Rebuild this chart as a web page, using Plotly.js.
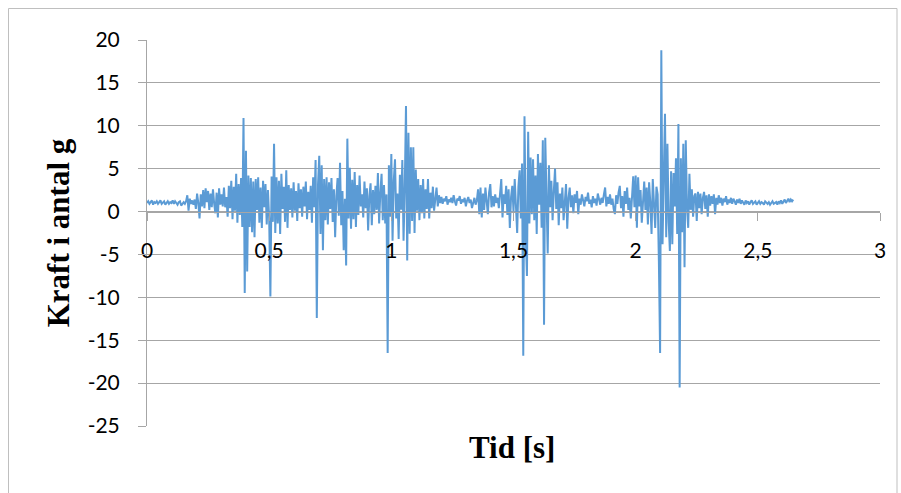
<!DOCTYPE html>
<html>
<head>
<meta charset="utf-8">
<script src="https://cdn.plot.ly/plotly-3.0.1.min.js"></script>
<style>
  html, body { margin: 0; padding: 0; background: #ffffff; }
  #chart { width: 901px; height: 493px; }
</style>
</head>
<body>
<div id="chart"></div>
<script>
// Sampling step of the recording (seconds)
const sampleStep = 0.005;

// Force readings (in g), one per sample
const force = [
  1.0,1.2,0.9,1.1,1.3,0.8,1.1,1.0,1.2,0.9,
  1.1,1.3,0.9,1.0,1.2,0.8,1.1,1.2,0.9,1.1,
  1.0,1.3,0.9,1.2,1.0,0.8,1.1,1.2,0.7,1.0,
  1.1,0.9,1.2,1.9,0.1,1.5,0.9,1.3,0.8,1.4,
  0.3,2.1,1.0,-0.8,2.0,0.6,2.5,0.4,2.7,1.1,
  2.4,0.2,2.1,0.5,2.6,0.9,-0.2,2.2,-0.7,2.7,
  0.8,2.0,0.6,2.8,0.5,1.7,-0.6,3.0,0.4,3.6,
  -0.9,2.9,0.1,4.4,-1.3,3.2,-0.4,3.9,-1.8,10.9,
  -9.5,7.1,-7.0,4.2,-1.8,3.9,-2.4,3.5,-3.0,3.8,
  0.2,4.0,-1.3,2.8,-1.9,3.6,0.5,3.2,-1.5,2.5,
  -0.8,-9.9,4.1,-1.2,7.9,-2.5,4.0,-1.4,3.6,-2.6,
  4.4,0.3,2.9,-1.2,4.8,-1.9,3.1,0.2,2.7,-0.7,
  3.4,0.1,2.4,-1.1,3.3,0.4,2.6,-0.6,2.9,0.6,
  3.5,-0.9,2.3,0.2,3.0,-1.3,4.0,0.5,6.0,-12.4,
  3.2,6.5,-2.6,5.4,-4.5,3.8,-1.0,4.0,-1.5,3.4,
  0.3,3.9,-1.2,2.6,-3.0,1.8,3.9,-0.5,5.7,-1.6,
  2.4,-4.5,1.5,-6.3,8.5,-0.8,5.1,-2.0,3.7,-0.9,
  4.6,-1.8,3.1,-0.4,4.2,0.6,2.0,-0.7,3.5,0.4,
  2.7,-2.2,1.8,3.3,-1.6,2.5,-0.3,3.0,0.2,4.5,
  -1.4,2.2,4.4,-1.0,3.1,-1.4,2.0,-16.5,5.4,-0.6,
  6.7,-3.4,3.6,6.1,-0.8,2.1,-3.2,4.3,0.2,6.0,
  -3.4,2.8,12.3,-5.7,9.2,-2.6,7.5,-1.1,7.5,-2.5,
  4.9,0.1,3.8,-1.0,3.1,-0.2,3.8,-0.8,2.6,0.3,
  3.8,-0.8,2.2,0.4,2.9,0.1,1.8,2.8,0.6,1.9,
  1.0,1.7,0.9,1.5,1.2,1.8,0.8,1.4,1.1,1.6,
  1.0,1.9,1.2,0.7,1.5,1.3,1.8,0.9,1.4,1.1,
  1.6,0.6,1.3,1.7,1.0,1.4,0.4,1.2,1.6,0.8,
  1.3,2.6,-0.3,2.8,-0.7,2.1,0.2,2.8,0.9,-0.3,
  2.2,3.2,0.5,1.8,0.6,2.0,1.0,1.6,0.4,2.5,
  3.8,-0.7,2.0,0.9,3.0,-0.4,2.6,-1.9,1.7,3.0,
  0.0,3.8,-0.5,-2.5,2.9,4.8,-0.8,5.6,-16.8,11.1,
  -2.7,-7.5,9.3,-1.4,6.3,-0.3,6.1,-1.0,4.2,-2.6,
  6.7,0.8,5.7,-1.9,8.3,-13.2,8.6,1.2,-4.9,5.4,
  0.5,3.6,-1.0,2.4,5.0,0.3,3.4,-1.6,2.1,0.4,
  2.8,-1.0,1.9,3.2,-2.0,1.6,2.8,0.5,1.9,-0.2,
  2.0,1.0,2.4,-0.3,1.5,0.8,2.0,1.1,0.6,1.7,
  1.2,2.2,0.9,1.4,0.5,1.8,1.0,1.5,0.7,2.1,
  1.2,0.8,1.6,1.0,2.0,2.8,0.6,1.7,0.9,2.0,
  0.8,1.5,0.3,-0.3,1.9,0.9,2.2,3.0,0.4,1.8,
  -0.6,2.4,0.9,2.8,0.2,1.6,-0.8,2.1,4.1,0.5,
  4.2,-1.9,4.0,0.6,2.5,-1.3,1.9,3.5,0.2,2.8,
  -1.5,3.4,1.0,-2.6,3.8,0.3,-1.9,2.9,2.0,-5.8,
  -16.5,18.8,-3.8,4.2,11.4,-3.0,7.9,-1.2,-4.6,4.7,
  -3.8,4.5,0.6,6.2,-2.6,10.2,-20.5,6.2,-2.4,7.9,
  -6.5,8.3,0.5,-1.9,4.4,0.2,2.6,-0.6,1.8,2.1,
  -1.1,2.3,0.4,2.1,-0.3,1.6,2.3,0.3,1.9,-0.6,
  2.0,0.7,1.8,0.9,2.0,-0.3,1.6,0.8,1.9,1.0,
  1.6,0.7,1.5,1.1,1.8,0.8,1.4,1.0,1.6,0.9,
  1.5,1.2,0.8,1.4,1.0,1.5,0.9,1.3,1.1,0.8,
  1.3,1.0,1.2,0.8,1.1,1.3,0.9,1.1,1.2,0.8,
  1.0,1.2,0.9,1.1,1.0,0.8,1.2,1.0,0.9,1.1,
  0.8,1.0,1.2,0.9,1.0,1.1,0.8,1.2,1.0,1.3,
  0.9,1.2,1.4,1.0,1.3,1.5,1.1,1.4,1.2,1.4
];

// Sample times (s): the regular sampling grid
const time = force.map((_, i) => +(i * sampleStep).toFixed(3));

// Tick labels
const xTickVals = [0, 0.5, 1, 1.5, 2, 2.5, 3];
const xTickText = ["0", "0,5", "1", "1,5", "2", "2,5", "3"];
const yTickVals = [-25, -20, -15, -10, -5, 0, 5, 10, 15, 20];
const yTickText = ["-25", "-20", "-15", "-10", "-5", "0", "5", "10", "15", "20"];

const xTitle = "Tid [s]";
const yTitle = "Kraft i antal g";

const axisGray = "#a6a6a6";
const tickFont = { family: "Lato, 'Open Sans', sans-serif", size: 21, color: "#000000" };
const titleFont = { family: "'Liberation Serif', 'DejaVu Serif', serif", size: 31, color: "#000000", weight: "bold" };

const trace = {
  type: "scatter",
  mode: "lines",
  x: time,
  y: force,
  line: { color: "#5B9BD5", width: 2 },
  hoverinfo: "x+y",
  showlegend: false
};

const layout = {
  width: 901,
  height: 493,
  margin: { l: 147, r: 21, t: 40, b: 67, pad: 0 },
  paper_bgcolor: "#ffffff",
  plot_bgcolor: "#ffffff",
  showlegend: false,
  xaxis: {
    range: [0, 3],
    anchor: "free",
    position: 25 / 45,
    tickvals: xTickVals,
    ticktext: xTickText,
    tickfont: tickFont,
    ticks: "outside",
    ticklen: 8,
    tickwidth: 1,
    tickcolor: axisGray,
    ticklabelstandoff: 12,
    showline: true,
    linecolor: axisGray,
    linewidth: 1,
    showgrid: false,
    zeroline: false,
    automargin: false,
    fixedrange: true
  },
  yaxis: {
    range: [-25, 20],
    tickvals: yTickVals,
    ticktext: yTickText,
    tickfont: tickFont,
    ticks: "outside",
    ticklen: 8,
    tickwidth: 1,
    tickcolor: axisGray,
    ticklabelstandoff: 14,
    showline: true,
    linecolor: axisGray,
    linewidth: 1,
    showgrid: true,
    gridcolor: axisGray,
    gridwidth: 1,
    zeroline: false,
    automargin: false,
    fixedrange: true,
    title: { text: yTitle, font: titleFont, standoff: 8 }
  },
  annotations: [
    {
      text: xTitle,
      xref: "paper", yref: "paper",
      x: (512 - 147) / 733, y: (426 - 447) / 386,
      xanchor: "center", yanchor: "middle",
      showarrow: false,
      font: titleFont
    }
  ],
  shapes: [
    {
      type: "rect",
      xref: "paper", yref: "paper",
      x0: (8.5 - 147) / 733, x1: (897 - 147) / 733,
      y0: (426 - 500) / 386, y1: 1 + (40 - 8.5) / 386,
      line: { color: "#bfbfbf", width: 1 },
      fillcolor: "rgba(0,0,0,0)",
      layer: "below"
    }
  ]
};

Plotly.newPlot("chart", [trace], layout, { displayModeBar: false, staticPlot: true });
</script>
</body>
</html>
